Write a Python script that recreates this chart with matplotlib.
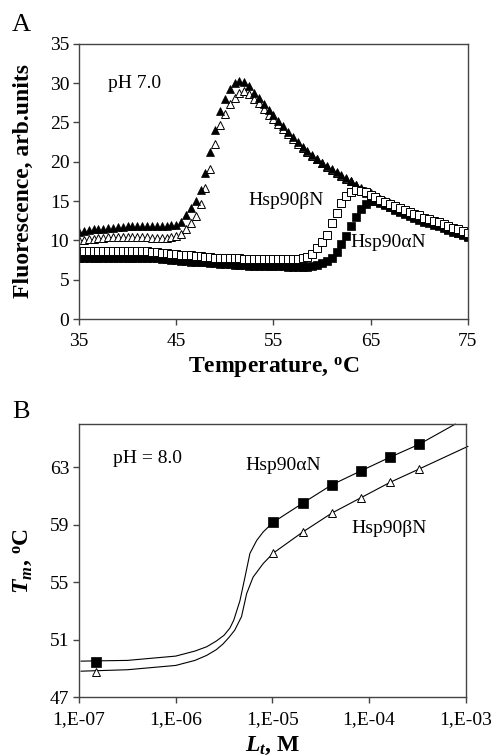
import numpy as np
import matplotlib
matplotlib.use("Agg")
import matplotlib.pyplot as plt

plt.rcParams['font.family'] = ['Liberation Serif', 'DejaVu Serif']
plt.rcParams['mathtext.fontset'] = 'custom'
plt.rcParams['mathtext.rm'] = 'Liberation Serif'
plt.rcParams['mathtext.it'] = 'Liberation Serif:italic'
plt.rcParams['mathtext.bf'] = 'Liberation Serif:bold'
plt.rcParams['mathtext.bfit'] = 'Liberation Serif:italic:bold'

# ---- panel A: fluorescence melting curves (0.5 degC steps, 35..75) ----
temp = np.arange(35.0, 75.5, 0.5)

fill_tri = [11.1, 11.2, 11.3, 11.4, 11.5, 11.5, 11.6, 11.6, 11.7, 11.7,
            11.8, 11.8, 11.8, 11.8, 11.8, 11.8, 11.8, 11.8, 11.8, 11.9,
            12.0, 12.4, 13.2, 14.1, 15.0, 16.4, 18.6, 21.2, 24.0, 26.5,
            28.0, 29.3, 30.0, 30.3, 30.1, 29.6, 28.8, 28.1, 27.3, 26.6,
            25.9, 25.2, 24.5, 23.8, 23.1, 22.5, 21.9, 21.4, 20.9, 20.4,
            19.9, 19.5, 19.1, 18.7, 18.3, 17.9, 17.5, 17.0, 16.5, 16.0,
            15.6, 15.2, 14.9, 14.6, 14.3, 14.0, 13.8, 13.5, 13.3, 13.1,
            12.9, 12.7, 12.5, 12.3, 12.0, 11.8, 11.5, 11.3, 11.0, 10.8,
            10.5]
open_tri = [10.0, 10.1, 10.2, 10.2, 10.3, 10.3, 10.4, 10.4, 10.4, 10.4,
            10.4, 10.4, 10.4, 10.4, 10.4, 10.3, 10.3, 10.3, 10.3, 10.4,
            10.5, 10.8, 11.4, 12.2, 13.1, 14.6, 16.7, 19.1, 22.2, 24.7,
            26.1, 27.3, 28.1, 28.8, 29.0, 28.6, 28.0, 27.5, 26.7, 26.0,
            25.4, 24.8, 24.2, 23.5, 22.9, 22.3, 21.7, 21.2, 20.7, 20.3,
            19.8, 19.4, 19.0, 18.6, 18.2, 17.8, 17.5, 17.1, 16.7, 16.3,
            16.0, 15.6, 15.3, 15.0, 14.7, 14.4, 14.1, 13.9, 13.6, 13.4,
            13.2, 12.9, 12.7, 12.5, 12.3, 12.1, 11.8, 11.6, 11.4, 11.2,
            11.0]
beta_n = [8.6, 8.6, 8.6, 8.6, 8.6, 8.6, 8.6, 8.6, 8.6, 8.6,
          8.6, 8.6, 8.6, 8.6, 8.6, 8.5, 8.5, 8.4, 8.4, 8.3,
          8.3, 8.2, 8.2, 8.1, 8.0, 8.0, 7.9, 7.9, 7.8, 7.8,
          7.8, 7.7, 7.7, 7.7, 7.6, 7.6, 7.6, 7.6, 7.6, 7.6,
          7.6, 7.6, 7.6, 7.6, 7.6, 7.6, 7.7, 7.9, 8.3, 9.0,
          9.8, 10.7, 12.2, 13.5, 14.7, 15.6, 16.1, 16.4, 16.3, 16.1,
          15.8, 15.5, 15.2, 14.9, 14.6, 14.4, 14.1, 13.9, 13.6, 13.4,
          13.2, 12.9, 12.7, 12.5, 12.3, 12.1, 11.8, 11.6, 11.4, 11.2,
          11.0]
alpha_n = [7.8, 7.8, 7.8, 7.8, 7.8, 7.8, 7.8, 7.8, 7.8, 7.8,
           7.8, 7.8, 7.8, 7.8, 7.8, 7.7, 7.7, 7.6, 7.6, 7.5,
           7.5, 7.4, 7.4, 7.3, 7.3, 7.2, 7.2, 7.1, 7.1, 7.0,
           7.0, 7.0, 6.9, 6.9, 6.9, 6.8, 6.8, 6.8, 6.7, 6.7,
           6.7, 6.7, 6.7, 6.6, 6.6, 6.6, 6.6, 6.6, 6.7, 6.9,
           7.1, 7.4, 7.8, 8.5, 9.5, 10.6, 11.8, 13.0, 14.0, 14.6,
           15.0, 15.0, 14.8, 14.5, 14.2, 13.9, 13.6, 13.3, 13.1, 12.8,
           12.6, 12.4, 12.2, 12.0, 11.8, 11.6, 11.3, 11.1, 10.9, 10.7,
           10.4]

# ---- panel B: Tm vs total ligand concentration ----
conc_pts = [1.5e-7, 1.02e-5, 2.05e-5, 4.1e-5, 8.2e-5, 1.65e-4, 3.3e-4]
tm_alpha = [49.45, 59.17, 60.49, 61.77, 62.74, 63.7, 64.6]
tm_beta = [48.76, 57.02, 58.48, 59.8, 60.87, 61.95, 62.88]

fit_conc_a = [1.05e-7, 3.16e-7, 1.0e-6, 1.58e-6, 2.09e-6, 2.63e-6, 3.16e-6,
              3.63e-6, 3.98e-6, 4.61e-6, 5.2e-6, 5.85e-6, 6.87e-6, 8.04e-6,
              1.02e-5, 2.05e-5, 4.1e-5, 8.2e-5, 1.65e-4, 3.3e-4, 7.76e-4]
fit_tm_a = [49.5, 49.55, 49.85, 50.2, 50.5, 50.9, 51.3,
            51.8, 52.35, 53.7, 55.35, 57.0, 57.9, 58.5,
            59.17, 60.49, 61.77, 62.74, 63.7, 64.6, 66.0]
fit_conc_b = [1.05e-7, 3.16e-7, 1.0e-6, 1.58e-6, 2.09e-6, 2.63e-6, 3.09e-6,
              3.55e-6, 4.07e-6, 4.79e-6, 5.41e-6, 6.31e-6, 8.04e-6,
              1.02e-5, 2.05e-5, 4.1e-5, 8.2e-5, 1.65e-4, 3.3e-4, 1.05e-3]
fit_tm_b = [48.8, 48.9, 49.2, 49.55, 49.9, 50.3, 50.7,
            51.15, 51.65, 52.6, 54.2, 55.35, 56.3,
            57.02, 58.48, 59.8, 60.87, 61.95, 62.88, 64.45]

FS = 14
LS = 17
frame_col = '#444444'

fig = plt.figure(figsize=(4.94, 7.56), dpi=100)
axA = fig.add_axes([0.160, 0.578, 0.787, 0.364])
axB = fig.add_axes([0.160, 0.078, 0.783, 0.361])

# panel A
axA.plot(temp, open_tri, ls='none', marker='^', ms=6.3, mfc='white', mec='black', mew=0.7)
axA.plot(temp, fill_tri, ls='none', marker='^', ms=6.3, mfc='black', mec='black', mew=0.5)
axA.plot(temp, alpha_n, ls='none', marker='s', ms=5.2, mfc='black', mec='black', mew=0.5)
axA.plot(temp, beta_n, ls='none', marker='s', ms=5.2, mfc='white', mec='black', mew=0.7)

axA.set_xlim(35, 75)
axA.set_ylim(0, 35)
axA.set_xticks([35, 45, 55, 65, 75])
axA.set_yticks(range(0, 36, 5))
axA.set_xlabel(r'Temperature, $^{\mathbf{o}}$C', fontsize=LS, fontweight='bold', labelpad=4)
axA.set_ylabel('Fluorescence, arb.units', fontsize=LS, fontweight='bold', labelpad=11)
axA.text(38.0, 30.0, 'pH 7.0', fontsize=FS, va='center', ha='left')
axA.text(52.4, 15.1, 'Hsp90βN', fontsize=FS, va='center', ha='left')
axA.text(62.9, 9.7, 'Hsp90αN', fontsize=FS, va='center', ha='left')
fig.text(0.024, 0.967, 'A', fontsize=19, va='center', ha='left')

# panel B
axB.plot(fit_conc_a, fit_tm_a, color='black', lw=0.8, clip_on=False)
axB.plot(fit_conc_b, fit_tm_b, color='black', lw=0.8, clip_on=False)
axB.plot(conc_pts, tm_alpha, ls='none', marker='s', ms=6.5, mfc='black', mec='black', mew=0.5)
axB.plot(conc_pts, tm_beta, ls='none', marker='^', ms=6, mfc='white', mec='black', mew=0.7)

axB.set_xscale('log')
axB.set_xlim(1e-7, 1e-3)
axB.set_ylim(47, 66)
axB.set_xticks([1e-7, 1e-6, 1e-5, 1e-4, 1e-3])
axB.set_xticklabels(['1,E-07', '1,E-06', '1,E-05', '1,E-04', '1,E-03'])
axB.minorticks_off()
axB.set_yticks([47, 51, 55, 59, 63])
axB.set_xlabel(r'$\mathbfit{L_t}$, M', fontsize=LS, fontweight='bold', labelpad=5)
axB.set_ylabel(r'$\mathbfit{T_m}$, $^{\mathbf{o}}$C', fontsize=LS, fontweight='bold', labelpad=11)
axB.text(2.23e-7, 63.6, 'pH = 8.0', fontsize=FS, va='center', ha='left')
axB.text(5.2e-6, 63.1, 'Hsp90αN', fontsize=FS, va='center', ha='left')
axB.text(6.58e-5, 58.76, 'Hsp90βN', fontsize=FS, va='center', ha='left')
fig.text(0.024, 0.455, 'B', fontsize=19, va='center', ha='left')

for ax in (axA, axB):
    for sp in ax.spines.values():
        sp.set_color(frame_col)
        sp.set_linewidth(1.0)
    ax.tick_params(direction='out', length=4, width=1.0, color=frame_col,
                   labelsize=FS, top=False, right=False)
    ax.tick_params(axis='x', pad=6)
    ax.tick_params(axis='y', pad=3)

fig.savefig('out.png', dpi=100)
